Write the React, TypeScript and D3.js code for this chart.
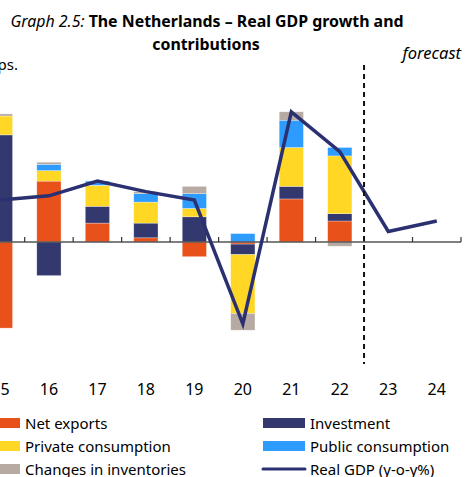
import React from "react";
import * as d3 from "d3";

const years = ["15", "16", "17", "18", "19", "20", "21", "22", "23", "24"];
const netExports = [-4.1, 2.9, 0.9, 0.2, -0.7, -0.1, 2.05, 1.0, 0, 0];
const investment = [5.1, -1.6, 0.8, 0.7, 1.2, -0.5, 0.6, 0.35, 0, 0];
const privateCons = [0.9, 0.5, 1.0, 1.0, 0.4, -2.8, 1.85, 2.75, 0, 0];
const publicCons = [0.0, 0.3, 0.2, 0.4, 0.7, 0.4, 1.3, 0.4, 0, 0];
const inventories = [0.1, 0.1, 0.0, 0.1, 0.35, -0.8, 0.4, -0.2, 0, 0];
const realGDP = [2.0, 2.2, 2.9, 2.4, 2.0, -3.9, 6.2, 4.3, 0.5, 1.0];
const barYears = ["15", "16", "17", "18", "19", "20", "21", "22"];

const seriesKeys = ["Net exports", "Investment", "Private consumption", "Public consumption", "Changes in inventories"];
const seriesValues = [netExports, investment, privateCons, publicCons, inventories];
const colors = ["#E8511A", "#33386E", "#FFD724", "#2E9BFF", "#B6AAA3"];
const lineColor = "#2B3070";

const FONT = "'Noto Sans', 'DejaVu Sans', sans-serif";

export default function App() {
  const W = 465, H = 477;
  const x = d3.scaleBand<string>().domain(years).range([-23.8, 461]).paddingInner(0.5).paddingOuter(0.25);
  const step = x.step();
  const y = d3.scaleLinear().domain([-6, 8]).range([368, 74]);

  const table = barYears.map((yr, i) => {
    const row: any = { year: yr };
    seriesKeys.forEach((k, j) => (row[k] = seriesValues[j][i]));
    return row;
  });
  const stacked = d3.stack<any>().keys(seriesKeys).offset(d3.stackOffsetDiverging)(table);

  const line = d3.line<number>()
    .x((_, i) => (x(years[i]) as number) + x.bandwidth() / 2)
    .y((d) => y(d));

  const axisStart = (x("15") as number) - step * 0.25;
  const axisEnd = 461;
  const ticks = d3.range(0, years.length + 1).map((i) => axisStart + i * step);
  const dashX = (x("22") as number) + x.bandwidth() + step * 0.25;

  const legendItems = [
    { label: "Net exports", color: colors[0], col: 0, row: 0 },
    { label: "Investment", color: colors[1], col: 0 + 1, row: 0 },
    { label: "Private consumption", color: colors[2], col: 0, row: 1 },
    { label: "Public consumption", color: colors[3], col: 1, row: 1 },
    { label: "Changes in inventories", color: colors[4], col: 0, row: 2 },
  ];
  const colX = [-22, 263];
  const rowY = [423, 446, 469];

  return (
    <svg width={W} height={H} style={{ position: "absolute", left: 0, top: 0 }} fontFamily={FONT}>
      <text x={207} y={27} textAnchor="middle" fontSize={15.9} fill="#000">
        <tspan fontStyle="italic">Graph 2.5: </tspan>
        <tspan fontWeight="bold">The Netherlands – Real GDP growth and</tspan>
      </text>
      <text x={206} y={50} textAnchor="middle" fontSize={15.9} fontWeight="bold" fill="#000">contributions</text>
      <text x={18} y={70} textAnchor="end" fontSize={15} fill="#000">pps.</text>
      <text x={461} y={59} textAnchor="end" fontSize={16.5} fontStyle="italic" fill="#000">forecast</text>

      {stacked.map((s, j) => (
        <g key={s.key} fill={colors[j]}>
          {s.map((d, i) => {
            const y0 = y(d[0]), y1 = y(d[1]);
            const h = Math.abs(y0 - y1);
            if (h < 0.01) return null;
            return (
              <rect key={i} x={x(d.data.year)} width={x.bandwidth()} y={Math.min(y0, y1)} height={h}
                stroke="#ffffff" strokeOpacity={0.5} strokeWidth={0.6} />
            );
          })}
        </g>
      ))}

      <line x1={0} x2={axisEnd} y1={y(0)} y2={y(0)} stroke="#555" strokeWidth={1.5} />
      {ticks.map((t, i) => (
        <line key={i} x1={t} x2={t} y1={y(0)} y2={y(0) - 5} stroke="#333" strokeWidth={1.2} />
      ))}

      <path d={line(realGDP) || ""} fill="none" stroke={lineColor} strokeWidth={3.5} strokeLinejoin="miter" />

      <line x1={dashX} x2={dashX} y1={65} y2={364} stroke="#111" strokeWidth={2} strokeDasharray="5,4" />

      {years.map((yr) => (
        <text key={yr} x={(x(yr) as number) + x.bandwidth() / 2} y={395} textAnchor="middle" fontSize={16} fill="#000">{yr}</text>
      ))}

      {legendItems.map((it) => (
        <g key={it.label}>
          <rect x={colX[it.col]} y={rowY[it.row] - 5} width={42} height={10} fill={it.color} />
          <text x={colX[it.col] + 47} y={rowY[it.row] + 5.5} fontSize={15} fill="#000">{it.label}</text>
        </g>
      ))}
      <line x1={263} x2={305} y1={rowY[2]} y2={rowY[2]} stroke={lineColor} strokeWidth={3} strokeLinecap="round" />
      <text x={310} y={rowY[2] + 5.5} fontSize={15} fill="#000">Real GDP (y-o-y%)</text>
    </svg>
  );
}
